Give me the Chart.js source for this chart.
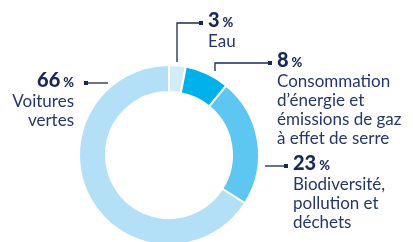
<!DOCTYPE html>
<html lang="fr">
<head>
  <meta charset="UTF-8">
  <title>Répartition</title>
  <script src="https://cdn.jsdelivr.net/npm/chart.js"></script>
  <style>
    html, body {
      margin: 0;
      padding: 0;
      background: #fff;
      overflow: hidden;
    }
    #wrap {
      width: 413px;
      height: 250px;
    }
  </style>
</head>
<body>
  <div id="wrap">
    <canvas id="graphique" width="413" height="250"></canvas>
  </div>

  <script>
    const categories = ['Eau', 'Consommation d’énergie et émissions de gaz à effet de serre', 'Biodiversité, pollution et déchets', 'Voitures vertes'];
    const valeurs = [3, 8, 23, 66];
    const lignesEtiquettes = [
      ['Eau'],
      ['Consommation', 'd’énergie et', 'émissions de gaz', 'à effet de serre'],
      ['Biodiversité,', 'pollution et', 'déchets'],
      ['Voitures', 'vertes']
    ];
    const couleurs = ['#d3ecfa', '#00b1ea', '#5dc6f1', '#b3e0f7'];

    const bleuNuit = '#1a2858';
    const bleuTexte = '#26366b';

    // placement des étiquettes, relatif au centre de l'anneau
    const renvois = [
      { trait: [[8, -93], [8, -132], [32, -132]], texte: [39, -132], align: 'left' },
      { trait: [[46, -84], [46, -92], [101, -92]], texte: [108, -92], align: 'left' },
      { trait: [[96, 11], [117, 11]], texte: [124, 11], align: 'left' },
      { trait: [[-61, -72], [-83, -72]], texte: [-95, -72], align: 'right' }
    ];

    const pluginEtiquettes = {
      id: 'etiquettes',
      afterDraw(chart) {
        const ctx = chart.ctx;
        const arc = chart.getDatasetMeta(0).data[0];
        const cx = arc.x, cy = arc.y;

        ctx.save();
        renvois.forEach((r, i) => {
          // trait de renvoi
          ctx.strokeStyle = bleuNuit;
          ctx.lineWidth = 1.3;
          ctx.beginPath();
          r.trait.forEach((p, k) => {
            if (k === 0) ctx.moveTo(cx + p[0], cy + p[1]);
            else ctx.lineTo(cx + p[0], cy + p[1]);
          });
          ctx.stroke();
          const fin = r.trait[r.trait.length - 1];
          ctx.fillStyle = bleuNuit;
          ctx.fillRect(cx + fin[0] - 2, cy + fin[1] - 2, 4, 4);

          // pourcentage
          const x = cx + r.texte[0];
          const y = cy + r.texte[1] + 4;
          const nb = String(valeurs[i]);
          ctx.textBaseline = 'alphabetic';
          ctx.textAlign = 'left';
          ctx.font = '900 13px Lato';
          const wPct = ctx.measureText('%').width;
          ctx.font = '900 20px Lato';
          const wNb = ctx.measureText(nb).width;
          const x0 = r.align === 'left' ? x : x - wNb - 3 - wPct;
          ctx.fillText(nb, x0, y);
          ctx.font = '900 13px Lato';
          ctx.fillText('%', x0 + wNb + 3, y);

          // libellé
          ctx.fillStyle = bleuTexte;
          ctx.font = '17px Lato';
          ctx.textAlign = r.align;
          lignesEtiquettes[i].forEach((l, k) => {
            ctx.fillText(l, x, y + 20 + k * 19);
          });
        });
        ctx.restore();
      }
    };

    new Chart(document.getElementById('graphique'), {
      type: 'doughnut',
      data: {
        labels: categories,
        datasets: [{
          data: valeurs,
          backgroundColor: couleurs,
          borderColor: '#ffffff',
          borderWidth: 2,
          hoverOffset: 0
        }]
      },
      options: {
        responsive: false,
        animation: false,
        cutout: '70%',
        layout: { padding: { left: 78, top: 64, right: 153, bottom: 4 } },
        plugins: {
          legend: { display: false },
          tooltip: { enabled: false }
        }
      },
      plugins: [pluginEtiquettes]
    });
  </script>
</body>
</html>
